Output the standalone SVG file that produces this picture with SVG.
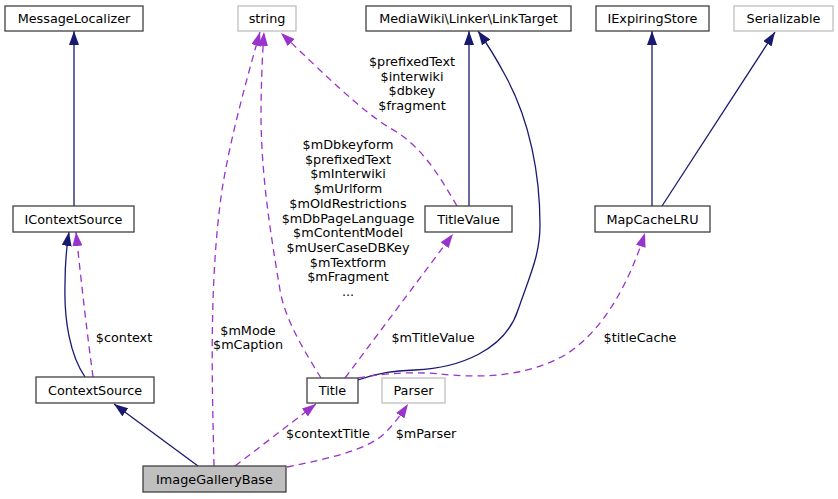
<svg xmlns="http://www.w3.org/2000/svg" width="838" height="499" viewBox="0 0 838 499">
<style>
text{font-family:"DejaVu Sans","Liberation Sans",sans-serif;font-size:12.8px;fill:#000}
.n text{text-anchor:middle}
.box{fill:#fff;stroke:#404040;stroke-width:1.3}
.ext{fill:#fff;stroke:#bfbfbf;stroke-width:1.3}
.cur{fill:#bfbfbf;stroke:#404040;stroke-width:1.3}
.inh{fill:none;stroke:#191970;stroke-width:1.3;marker-end:url(#an)}
.use{fill:none;stroke:#9a32cd;stroke-width:1.3;stroke-dasharray:7,5;marker-end:url(#ap)}
.lbl{text-anchor:middle}
</style>
<defs>
<marker id="an" markerUnits="userSpaceOnUse" markerWidth="14" markerHeight="10" refX="14" refY="5" orient="auto" viewBox="0 0 14 10"><path d="M0,0 L14,5 L0,10 z" fill="#191970"/></marker>
<marker id="ap" markerUnits="userSpaceOnUse" markerWidth="14" markerHeight="10" refX="14" refY="5" orient="auto" viewBox="0 0 14 10"><path d="M0,0 L14,5 L0,10 z" fill="#9a32cd"/></marker>
</defs>
<g id="connectors">
<path class="inh" d="M74,206 L74,31"/>
<path class="inh" d="M85,377 C70,355 64,320 65,285 C65,265 66,250 69,232"/>
<path class="use" d="M93,377 C88,340 82,290 76,232"/>
<path class="inh" d="M198,466 L114,404"/>
<path class="use" d="M214,466 C212,380 209,280 222,190 C230,140 245,85 260,32"/>
<path class="use" d="M321,378 C305,352 285,320 280,290 C270,230 262,180 261,120 C261,90 262,60 264,32"/>
<path class="use" d="M457,206 C436,170 420,145 390,128 C360,110 320,70 281,33"/>
<path class="inh" d="M469,206 L469,31"/>
<path class="inh" d="M358,380 C380,372 395,371 415,370 C460,368 505,350 518,310 C530,275 540,255 540,225 C540,175 530,120 505,75 C497,60 488,45 478,31"/>
<path class="use" d="M358,378 C390,372 420,372 440,374 C470,377 520,380 565,355 C605,330 630,280 645,233"/>
<path class="use" d="M345,378 L453,234"/>
<path class="use" d="M235,466 L316,404"/>
<path class="use" d="M287,467 C320,460 365,452 385,433 C395,423 402,413 408,404"/>
<path class="inh" d="M652,206 L652,31"/>
<path class="inh" d="M662,206 L775,32"/>
<text class="lbl" x="124" y="342">$context</text>
<text class="lbl" x="248" y="335">$mMode</text>
<text class="lbl" x="248" y="349">$mCaption</text>
<text class="lbl" x="348" y="149">$mDbkeyform</text>
<text class="lbl" x="348" y="163.7">$prefixedText</text>
<text class="lbl" x="348" y="178.4">$mInterwiki</text>
<text class="lbl" x="348" y="193.1">$mUrlform</text>
<text class="lbl" x="348" y="207.8">$mOldRestrictions</text>
<text class="lbl" x="348" y="222.5">$mDbPageLanguage</text>
<text class="lbl" x="348" y="237.2">$mContentModel</text>
<text class="lbl" x="348" y="251.9">$mUserCaseDBKey</text>
<text class="lbl" x="348" y="266.6">$mTextform</text>
<text class="lbl" x="348" y="281.3">$mFragment</text>
<text class="lbl" x="348" y="296">...</text>
<text class="lbl" x="412" y="66">$prefixedText</text>
<text class="lbl" x="412" y="80.7">$interwiki</text>
<text class="lbl" x="412" y="95.4">$dbkey</text>
<text class="lbl" x="412" y="110.1">$fragment</text>
<text class="lbl" x="433" y="342">$mTitleValue</text>
<text class="lbl" x="640" y="342">$titleCache</text>
<text class="lbl" x="328" y="438">$contextTitle</text>
<text class="lbl" x="426" y="438">$mParser</text>
</g>
<g id="MessageLocalizer" class="n"><rect class="box" x="5" y="6" width="138" height="25"/><text x="74" y="23">MessageLocalizer</text></g>
<g id="string" class="n"><rect class="ext" x="238" y="6" width="58" height="25"/><text x="267" y="23">string</text></g>
<g id="LinkTarget" class="n"><rect class="box" x="366" y="6" width="205" height="25"/><text x="468.5" y="23">MediaWiki\Linker\LinkTarget</text></g>
<g id="IExpiringStore" class="n"><rect class="box" x="596" y="6" width="113" height="25"/><text x="652.5" y="23">IExpiringStore</text></g>
<g id="Serializable" class="n"><rect class="ext" x="734" y="6" width="99" height="25"/><text x="783.5" y="23">Serializable</text></g>
<g id="IContextSource" class="n"><rect class="box" x="13" y="206" width="121" height="26"/><text x="73.5" y="223.5">IContextSource</text></g>
<g id="TitleValue" class="n"><rect class="box" x="425" y="206" width="87" height="26"/><text x="468.5" y="223.5">TitleValue</text></g>
<g id="MapCacheLRU" class="n"><rect class="box" x="595" y="206" width="115" height="26"/><text x="652.5" y="223.5">MapCacheLRU</text></g>
<g id="ContextSource" class="n"><rect class="box" x="36" y="377" width="118" height="26"/><text x="95" y="394.5">ContextSource</text></g>
<g id="Title" class="n"><rect class="box" x="307" y="378" width="51" height="25"/><text x="332.5" y="395">Title</text></g>
<g id="Parser" class="n"><rect class="ext" x="382" y="378" width="63" height="25"/><text x="413.5" y="395">Parser</text></g>
<g id="ImageGalleryBase" class="n"><rect class="cur" x="143" y="466" width="143" height="26"/><text x="214.5" y="483.5">ImageGalleryBase</text></g>
</svg>
